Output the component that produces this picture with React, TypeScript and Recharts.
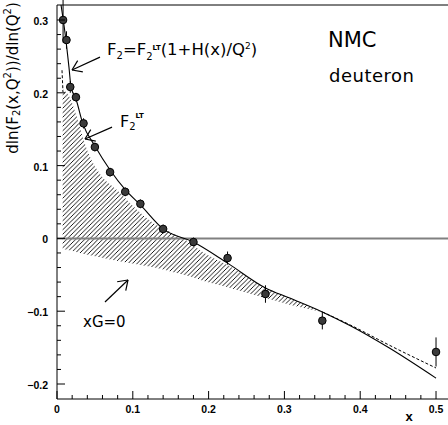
import React from 'react';
import { ComposedChart, XAxis, YAxis, Line, Area, Scatter, ErrorBar, ReferenceLine } from 'recharts';

// NMC deuteron: measured slopes d ln F2 / d ln Q^2
const dataX = [0.008, 0.0125, 0.0175, 0.025, 0.035, 0.05, 0.07, 0.09, 0.11, 0.14, 0.18, 0.225, 0.275, 0.35, 0.5];
const dataY = [0.3, 0.2725, 0.208, 0.194, 0.158, 0.1255, 0.091, 0.064, 0.0475, 0.013, -0.005, -0.027, -0.0764, -0.113, -0.156];
const dataErr = [0.031, 0.012, 0.008, 0.006, 0.007, 0.006, 0.006, 0.006, 0.006, 0.006, 0.006, 0.009, 0.012, 0.012, 0.02];

// F2 = F2^LT (1 + H(x)/Q^2), solid curve
const htX = [0.0053, 0.0106, 0.0158, 0.0185, 0.025, 0.034, 0.05, 0.07, 0.09, 0.11, 0.14, 0.18, 0.225, 0.275, 0.307, 0.35, 0.387, 0.439, 0.5];
const htY = [0.3206, 0.282, 0.235, 0.208, 0.1915, 0.158, 0.127, 0.094, 0.067, 0.046, 0.013, -0.005, -0.034, -0.068, -0.082, -0.101, -0.12, -0.151, -0.192];

// F2^LT, dashed outside the band
const ltSmallX = [0.0066, 0.0079];
const ltSmallY = [0.231, 0.201];
const ltLargeX = [0.35, 0.387, 0.439, 0.5];
const ltLargeY = [-0.101, -0.119, -0.147, -0.178];

// hatched band between F2^LT and xG=0
const bandX = [0.0075, 0.0145, 0.0264, 0.0343, 0.0435, 0.0567, 0.0805, 0.103, 0.129, 0.152, 0.175, 0.189, 0.2256, 0.275, 0.307, 0.35];
const bandTop = [0.205, 0.198, 0.166, 0.138, 0.112, 0.0885, 0.0651, 0.0418, 0.0198, 0.0074, -0.0055, -0.0165, -0.037, -0.0679, -0.082, -0.101];
const bandLow = [-0.015, -0.016, -0.019, -0.021, -0.023, -0.026, -0.031, -0.035, -0.04, -0.046, -0.052, -0.057, -0.067, -0.082, -0.091, -0.101];

const xMajor = [0, 0.1, 0.2, 0.3, 0.4, 0.5];
const xMajorLabels = ['0', '0.1', '0.2', '0.3', '0.4', '0.5'];
const xMinor = [0.02, 0.04, 0.06, 0.08, 0.12, 0.14, 0.16, 0.18, 0.22, 0.24, 0.26, 0.28, 0.32, 0.34, 0.36, 0.38, 0.42, 0.44, 0.46, 0.48];
const yMajor = [-0.2, -0.1, 0, 0.1, 0.2, 0.3];
const yMajorLabels = ['\u22120.2', '\u22120.1', '0', '0.1', '0.2', '0.3'];
const yMinor = [-0.18, -0.16, -0.14, -0.12, -0.08, -0.06, -0.04, -0.02, 0.02, 0.04, 0.06, 0.08, 0.12, 0.14, 0.16, 0.18, 0.22, 0.24, 0.26, 0.28];

const X_MIN = 0, X_MAX = 0.5158, Y_MIN = -0.2206, Y_MAX = 0.3206;
const W = 448, H = 425;
const LEFT = 57, TOP = 5, BOTTOM_H = 26;
const KX = (W - LEFT) / (X_MAX - X_MIN);
const KY = (H - TOP - BOTTOM_H) / (Y_MAX - Y_MIN);

const points = dataX.map((x, i) => ({ x, y: dataY[i], err: dataErr[i] }));
const htCurve = htX.map((x, i) => ({ x, y: htY[i] }));
const ltSmall = ltSmallX.map((x, i) => ({ x, y: ltSmallY[i] }));
const ltLarge = ltLargeX.map((x, i) => ({ x, y: ltLargeY[i] }));
const band = bandX.map((x, i) => ({ x, range: [bandLow[i], bandTop[i]] }));

// annotation arrows, in data units
const arrows = [
  { tail: { x: 0.0567, y: 0.249 }, tip: { x: 0.0198, y: 0.2313 } },
  { tail: { x: 0.0726, y: 0.1529 }, tip: { x: 0.0369, y: 0.1365 } },
  { tail: { x: 0.0633, y: -0.0874 }, tip: { x: 0.0937, y: -0.0571 } },
];

const arrowSegments = (tail, tip, len = 11, ang = 0.6) => {
  const dx = (tip.x - tail.x) * KX;
  const dy = -(tip.y - tail.y) * KY;
  const back = Math.atan2(-dy, -dx);
  const segs = [[tail, tip]];
  [back + ang, back - ang].forEach((a) => {
    segs.push([tip, { x: tip.x + (Math.cos(a) * len) / KX, y: tip.y - (Math.sin(a) * len) / KY }]);
  });
  return segs;
};

const isMajor = (v: number) => Math.abs(v * 10 - Math.round(v * 10)) < 1e-6;
const tickFont = { fontFamily: 'Liberation Sans, Arial, sans-serif', fontWeight: 'bold' as const, fontSize: 10.5 };

const XTick = (props: any) => {
  const { x, y, payload } = props;
  const v = payload.value;
  const major = isMajor(v);
  const idx = xMajor.findIndex((m) => Math.abs(m - v) < 1e-6);
  return (
    <g>
      <line x1={x} x2={x} y1={y} y2={y - (major ? 8 : 4)} stroke="#000" />
      {major && (
        <text x={x} y={y + 9.5} textAnchor="middle" dominantBaseline="central" fill="#000" {...tickFont}>
          {xMajorLabels[idx]}
        </text>
      )}
    </g>
  );
};

const YTick = (props: any) => {
  const { x, y, payload } = props;
  const v = payload.value;
  const major = isMajor(v);
  const idx = yMajor.findIndex((m) => Math.abs(m - v) < 1e-6);
  return (
    <g>
      <line x1={x} x2={x + (major ? 8 : 4)} y1={y} y2={y} stroke="#000" />
      {major && (
        <text x={x - 9} y={y + 1} textAnchor="end" dominantBaseline="central" fill="#000" {...tickFont}>
          {yMajorLabels[idx]}
        </text>
      )}
    </g>
  );
};

const Dot = (props: any) => {
  const { cx, cy } = props;
  return <circle cx={cx} cy={cy} r={3.8} fill="#3a3a3a" stroke="#000" strokeWidth={1} />;
};

const font = 'DejaVu Sans, sans-serif';

export default function App() {
  const xTicks = [...xMajor, ...xMinor].sort((a, b) => a - b);
  const yTicks = [...yMajor, ...yMinor].sort((a, b) => a - b);
  return (
    <div style={{ position: 'absolute', left: 0, top: 0, width: W, height: H, background: '#fff' }}>
      <svg width={0} height={0} style={{ position: 'absolute' }}>
        <defs>
          <pattern id="hatch" patternUnits="userSpaceOnUse" width={4.5} height={4.5}>
            <path d="M-1,1 l2,-2 M0,4.5 l4.5,-4.5 M3.5,5.5 l2,-2" stroke="#000" strokeWidth={0.9} />
          </pattern>
        </defs>
      </svg>
      <ComposedChart width={W} height={H} margin={{ top: TOP, right: 0, bottom: 0, left: 0 }}>
        <XAxis
          type="number"
          dataKey="x"
          domain={[X_MIN, X_MAX]}
          allowDataOverflow
          ticks={xTicks}
          interval={0}
          tick={<XTick />}
          tickLine={false}
          tickSize={0}
          tickMargin={0}
          height={BOTTOM_H}
          axisLine={{ stroke: '#000' }}
        />
        <YAxis
          type="number"
          domain={[Y_MIN, Y_MAX]}
          allowDataOverflow
          ticks={yTicks}
          interval={0}
          tick={<YTick />}
          tickLine={false}
          tickSize={0}
          tickMargin={0}
          width={LEFT}
          axisLine={{ stroke: '#000' }}
        />
        <Area
          data={band}
          dataKey="range"
          type="monotone"
          stroke="none"
          fill="url(#hatch)"
          fillOpacity={1}
          isAnimationActive={false}
        />
        <ReferenceLine y={0} stroke="#808080" strokeWidth={2} />
        <ReferenceLine y={Y_MAX} stroke="#000" />
        <Line data={htCurve} dataKey="y" type="monotone" stroke="#000" strokeWidth={1.1} dot={false} isAnimationActive={false} />
        <Line data={ltSmall} dataKey="y" type="linear" stroke="#000" strokeDasharray="3 2" dot={false} isAnimationActive={false} />
        <Line data={ltLarge} dataKey="y" type="monotone" stroke="#000" strokeDasharray="3 2" dot={false} isAnimationActive={false} />
        <Scatter data={points} dataKey="y" shape={<Dot />} isAnimationActive={false}>
          <ErrorBar dataKey="err" direction="y" width={0} stroke="#000" strokeWidth={1} />
        </Scatter>
        {arrows.flatMap((a, i) =>
          arrowSegments(a.tail, a.tip).map((s, j) => (
            <ReferenceLine key={`a${i}-${j}`} segment={s} stroke="#000" strokeWidth={1.2} />
          ))
        )}
      </ComposedChart>
      <svg width={W} height={H} style={{ position: 'absolute', left: 0, top: 0, pointerEvents: 'none' }}>
        <text x={107} y={55} fontSize={16.5} fontFamily={font} fill="#000">
          F<tspan dy={4} fontSize={10}>2</tspan>
          <tspan dy={-4}>=F</tspan>
          <tspan dy={5} fontSize={10}>2</tspan>
          <tspan dy={-10} fontSize={7} fontWeight="bold">LT</tspan>
          <tspan dy={5}>(1+H(x)/Q</tspan>
          <tspan dy={-6} fontSize={9}>2</tspan>
          <tspan dy={6}>)</tspan>
        </text>
        <text x={120} y={127} fontSize={16} fontFamily={font} fill="#000">
          F<tspan dy={3} fontSize={10}>2</tspan>
          <tspan dy={-12} fontSize={7} fontWeight="bold">LT</tspan>
        </text>
        <text x={328} y={47} fontSize={21} fontFamily={font} fill="#000">NMC</text>
        <text x={329} y={82} fontSize={18} fontFamily={font} letterSpacing={0.5} fill="#000">deuteron</text>
        <text x={83} y={327} fontSize={15} fontFamily={font} fill="#000">xG=0</text>
        <text x={409} y={421} fontSize={13} fontWeight="bold" textAnchor="middle" fontFamily="Liberation Sans, Arial, sans-serif" fill="#000">x</text>
        <text
          x={13}
          y={78}
          fontSize={15}
          fontFamily={font}
          textAnchor="middle"
          dominantBaseline="central"
          transform="rotate(-90 13 78)"
          fill="#000"
        >
          dln(F<tspan dy={3} fontSize={10}>2</tspan>
          <tspan dy={-3}>(x,Q</tspan>
          <tspan dy={-6} fontSize={10}>2</tspan>
          <tspan dy={6}>))/dln(Q</tspan>
          <tspan dy={-6} fontSize={10}>2</tspan>
          <tspan dy={6}>)</tspan>
        </text>
      </svg>
    </div>
  );
}
